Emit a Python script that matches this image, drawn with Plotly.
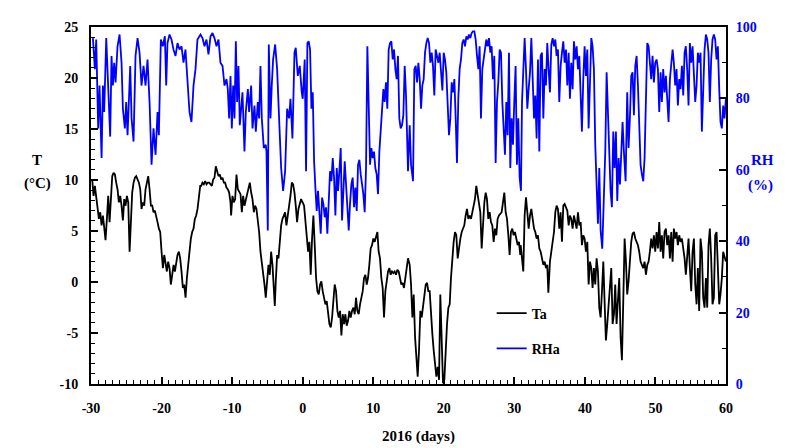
import plotly.graph_objects as go

# ---------------- data ----------------
ta_days = [
-29.83,-29.64,-29.45,-29.26,-29.07,-28.88,-28.69,-28.50,-28.31,-28.13,
-27.94,-27.75,-27.56,-27.37,-27.18,-26.99,-26.80,-26.61,-26.43,-26.24,
-26.05,-25.86,-25.67,-25.48,-25.29,-25.10,-24.91,-24.72,-24.53,-24.35,
-24.16,-23.97,-23.78,-23.59,-23.40,-23.21,-23.02,-22.84,-22.65,-22.46,
-22.27,-22.08,-21.89,-21.70,-21.51,-21.32,-21.14,-20.95,-20.76,-20.57,
-20.38,-20.19,-20.00,-19.81,-19.62,-19.44,-19.25,-19.06,-18.87,-18.68,
-18.49,-18.30,-18.11,-17.92,-17.74,-17.55,-17.36,-17.17,-16.98,-16.79,
-16.60,-16.41,-16.22,-16.04,-15.85,-15.66,-15.47,-15.28,-15.09,-14.90,
-14.71,-14.52,
-14.38,-14.20,-14.01,-13.82,-13.63,-13.44,-13.25,-13.06,-12.87,-12.68,
-12.50,-12.31,-12.12,-11.93,-11.74,-11.55,-11.36,-11.17,-10.99,-10.80,
-10.61,-10.42,-10.23,-10.14,-9.95,-9.76,-9.57,-9.38,-9.19,-9.00,
-8.81,-8.62,-8.44,-8.25,-8.06,-7.87,-7.68,-7.49,-7.30,-7.11,
-6.92,-6.74,-6.55,-6.36,-6.17,-5.98,-5.79,-5.60,-5.41,-5.23,
-5.04,-4.85,-4.66,-4.47,-4.28,-4.09,-3.95,-3.81,-3.62,-3.43,
-3.24,-3.05,-2.86,-2.68,-2.49,-2.30,-2.11,-1.92,-1.73,-1.54,
-1.35,-1.16,-0.98,-0.79,-0.60,-0.41,-0.22,-0.03,
0.01,0.20,0.39,0.58,0.77,0.95,1.14,1.33,1.52,1.71,
1.90,2.09,2.28,2.47,2.65,2.84,3.03,3.22,3.41,3.60,
3.79,3.98,4.17,4.35,4.54,4.73,4.92,5.11,5.30,5.49,
5.68,5.86,6.05,6.24,6.43,6.62,6.81,7.00,7.19,7.38,
7.56,7.75,7.94,8.13,8.32,8.51,8.70,8.89,9.08,9.26,
9.45,9.64,9.83,10.02,10.21,10.40,10.59,10.77,10.96,11.15,
11.34,11.53,11.72,11.91,12.10,12.29,12.47,12.66,12.85,13.04,
13.23,13.42,13.61,13.80,13.98,14.17,14.36,14.55,14.74,14.93,
15.17,15.36,15.55,15.74,15.93,16.11,16.30,16.49,16.68,16.87,
17.06,17.25,17.44,17.63,17.81,18.00,18.19,18.38,18.57,18.76,
18.95,19.14,19.33,19.51,19.70,19.89,20.08,20.27,20.46,20.65,
20.84,21.02,21.21,21.40,21.59,21.78,21.97,22.16,22.35,22.54,
22.72,22.91,23.10,23.29,23.48,23.67,23.86,24.05,24.24,24.42,
24.61,24.80,24.99,25.18,25.37,25.56,25.75,25.94,26.12,26.31,
26.50,26.69,26.88,27.07,27.26,27.45,27.63,27.82,28.01,28.20,
28.39,28.58,28.77,28.96,29.15,29.33,29.52,29.71,29.90,30.09,
30.28,30.47,30.66,30.84,
30.90,31.09,31.27,31.46,31.65,31.84,32.03,32.22,32.41,32.60,
32.79,32.97,33.16,33.35,33.54,33.73,33.92,34.11,34.30,34.48,
34.67,34.82,35.05,35.24,35.43,35.62,35.81,35.99,36.18,36.37,
36.56,36.75,36.94,37.13,37.32,37.51,37.70,37.88,38.07,38.26,
38.45,38.64,38.83,39.02,39.21,39.40,39.58,39.77,39.96,40.15,
40.34,40.53,40.72,40.91,41.09,41.28,41.47,41.66,41.85,42.04,
42.23,42.42,42.61,42.79,42.98,43.17,43.36,43.55,43.74,43.93,
44.12,44.30,44.49,44.68,44.87,45.06,
45.25,45.44,45.63,45.82,46.00,46.19,46.38,46.57,46.76,46.95,
47.14,47.33,47.52,47.70,47.89,48.08,48.27,48.46,48.65,48.84,
49.03,49.21,49.40,49.59,49.78,49.97,50.16,50.35,50.54,50.73,
50.91,51.10,51.29,51.48,51.67,51.86,52.05,52.24,52.43,52.61,
52.80,52.99,53.18,53.37,53.56,53.75,53.94,54.13,54.31,54.50,
54.69,54.88,55.07,55.26,55.45,55.64,55.83,56.01,56.20,56.39,
56.58,56.77,56.96,57.15,57.34,57.52,57.71,57.90,58.09,58.28,
58.47,58.66,58.85,59.04,59.22,59.41,59.60,59.79,59.98]

ta_values = [
10.06,8.45,9.42,8.13,7.48,6.19,6.84,5.55,6.52,5.23,
4.10,6.19,8.45,5.87,8.45,10.38,10.71,10.54,9.74,9.09,
7.80,8.45,7.48,6.03,8.13,7.48,8.45,7.80,2.97,6.19,
8.77,9.74,10.22,10.38,10.06,9.74,9.09,7.16,7.80,7.48,
9.09,9.74,10.38,9.09,7.48,7.48,6.84,7.00,6.52,5.87,
5.23,4.90,2.97,1.36,2.65,1.68,1.03,2.00,1.36,-0.25,
1.03,1.68,1.03,2.00,2.65,2.97,2.32,1.03,-0.58,-0.25,
-1.54,0.39,1.68,3.29,4.26,4.90,5.23,6.19,6.52,7.16,
8.45,9.42,
9.42,9.74,9.58,9.90,9.58,9.74,9.74,9.58,9.42,10.06,
10.22,11.35,10.71,10.38,10.54,10.06,10.22,9.74,9.74,9.26,
9.09,8.77,7.80,6.52,8.45,7.80,8.13,10.54,9.09,8.77,
8.61,6.84,8.45,7.48,8.13,8.77,9.09,9.74,8.77,8.13,
6.84,7.48,7.16,6.19,4.90,2.97,2.00,0.71,-0.25,-1.54,
0.07,1.68,0.71,2.97,1.68,-0.25,-2.35,0.07,2.65,2.32,
4.26,5.55,6.19,6.52,6.84,5.55,6.84,7.48,8.45,9.74,
9.58,8.77,7.48,5.87,7.16,7.80,8.13,7.80,
7.80,7.48,6.19,4.58,2.97,3.94,0.71,4.26,6.52,3.61,
0.39,-0.90,-1.22,-0.25,0.07,-0.90,-1.54,-2.19,-1.87,-3.16,
-4.12,-4.45,-3.48,-1.87,-0.25,-0.90,-2.83,-3.48,-2.83,-5.25,
-3.16,-4.12,-3.16,-4.28,-3.80,-2.83,-3.48,-2.83,-2.51,-3.16,
-1.54,-2.83,-3.16,-2.19,-1.54,-0.90,0.39,0.71,-0.25,0.39,
1.68,3.29,3.61,4.26,3.94,4.58,4.90,2.97,2.32,0.39,
-0.58,-3.48,-0.90,0.07,1.03,1.36,0.71,1.03,0.87,1.03,
0.71,1.20,1.03,0.39,-0.25,-0.09,-0.58,0.39,1.68,2.32,
1.68,-0.25,-3.48,-1.22,-5.41,-7.35,-9.28,-6.70,-2.83,-3.48,
-2.19,-1.22,-0.25,-0.09,-0.90,-0.90,-3.48,-5.09,-6.70,-7.99,
-9.28,-8.31,-9.60,-1.22,-6.70,-9.93,-9.60,-6.06,-4.12,-2.51,
-2.19,0.39,2.65,3.94,4.90,4.58,2.32,3.61,4.26,4.90,
5.23,5.55,6.52,7.16,6.19,6.52,6.19,6.84,7.48,8.13,
9.42,8.45,7.80,6.84,3.29,6.19,7.80,8.77,8.13,6.19,
6.84,5.87,5.55,3.94,5.23,4.58,6.19,6.52,6.68,6.84,
7.80,8.77,6.84,6.19,4.58,2.65,4.90,5.23,4.58,4.90,
4.26,3.61,3.94,2.65,
3.61,2.00,1.03,6.52,8.29,6.84,5.23,6.52,7.16,6.19,
5.23,4.90,4.26,4.58,3.29,2.97,2.32,1.68,2.00,1.36,
1.68,-1.06,2.00,2.97,3.94,4.90,6.84,7.48,7.16,5.23,
6.84,3.94,7.48,7.64,7.32,7.00,5.55,6.52,6.19,5.23,
6.52,5.87,5.23,6.84,5.55,5.87,3.61,4.58,4.26,2.97,
3.94,-0.25,2.00,1.36,-0.58,1.36,-0.25,2.32,1.03,-2.51,
-3.48,-0.90,2.00,-1.87,-5.74,-4.12,-2.19,0.39,1.36,-4.12,
-3.16,-0.25,-4.12,-1.87,0.39,-5.41,
-7.67,-1.87,4.26,2.00,-1.22,0.07,2.65,3.94,4.74,4.90,
4.26,3.94,3.61,2.97,2.00,1.68,1.36,2.00,0.71,1.68,
2.00,2.97,4.26,3.29,4.58,2.97,4.90,3.29,5.87,2.97,
4.58,2.32,4.90,5.23,3.61,4.58,2.32,4.90,2.00,5.23,
4.26,4.90,3.61,4.58,3.94,4.26,3.29,2.32,0.71,2.97,
4.26,1.36,-0.90,2.97,4.26,-0.25,-2.19,1.36,-2.83,4.26,
2.97,-1.54,-2.51,0.39,-2.51,3.61,5.23,2.32,-2.19,-1.54,
4.58,4.90,1.03,-2.19,-1.22,0.39,2.97,2.32,2.00]

rh_days = [
-29.73,-29.45,-29.26,-28.98,-28.79,-28.50,-28.31,-28.13,-27.84,-27.56,
-27.28,-27.09,-26.90,-26.71,-26.52,-26.24,-25.95,-25.67,-25.48,-25.20,
-25.01,-24.82,-24.63,-24.44,-24.25,-23.97,-23.69,-23.40,-23.12,-22.84,
-22.55,-22.27,-21.99,-21.70,-21.42,-21.14,-20.85,-20.57,-20.38,-20.10,
-19.82,-19.53,-19.34,-19.16,-18.87,-18.59,-18.31,-18.02,-17.74,-17.46,
-17.17,-16.89,-16.61,-16.32,-16.04,-15.76,-15.47,-15.19,-14.91,
-14.48,-14.20,-13.91,-13.63,-13.35,-13.06,-12.78,-12.50,-12.21,-11.93,
-11.65,-11.36,-11.08,-10.80,-10.61,-10.42,-10.23,-10.04,-9.85,-9.66,
-9.47,-9.29,-9.10,-8.91,-8.72,-8.53,-8.25,-8.06,-7.77,-7.59,
-7.30,-7.11,-6.83,-6.64,-6.36,-6.17,-5.98,-5.79,-5.51,-5.23,
-5.13,-4.94,-4.80,-4.56,-4.38,-4.19,-3.90,-3.62,-3.34,-3.05,
-2.77,-2.49,-2.20,-1.92,-1.73,-1.45,-1.16,-0.98,-0.69,-0.41,
-0.13,
0.01,0.29,0.48,0.67,0.86,1.05,1.24,1.43,1.62,1.80,
1.99,2.18,2.37,2.56,2.75,2.94,3.13,3.31,3.50,3.69,
3.88,4.07,4.26,4.45,4.64,4.83,5.01,5.20,5.39,5.58,
5.77,5.96,6.15,6.34,6.53,6.71,6.90,7.09,7.28,7.47,
7.66,7.85,8.04,8.23,8.41,8.60,8.79,8.98,9.17,9.36,
9.55,9.74,9.93,10.11,10.30,10.49,10.68,10.87,11.06,11.25,
11.44,11.62,11.81,12.00,12.19,12.38,12.57,12.76,12.95,13.14,
13.32,13.51,13.70,13.89,14.08,14.27,14.46,14.65,14.93,
15.17,15.36,15.64,15.83,16.02,16.21,16.40,16.59,16.78,16.96,
17.15,17.34,17.53,17.72,17.91,18.10,18.29,18.47,18.66,18.85,
19.04,19.23,19.42,19.61,19.80,19.99,20.17,20.36,20.55,20.74,
20.93,21.12,21.31,21.50,21.69,21.87,22.06,22.25,22.44,22.63,
22.82,23.01,23.20,23.39,23.57,23.76,23.95,24.14,24.33,24.52,
24.71,24.90,25.08,25.27,25.46,25.65,25.84,26.03,26.22,26.41,
26.60,26.78,26.97,27.16,27.35,27.54,27.73,27.92,28.11,28.30,
28.48,28.67,28.86,29.05,29.24,29.43,29.62,29.81,29.99,30.18,
30.37,30.56,30.75,30.94,
31.09,31.27,31.46,31.65,31.84,32.03,32.22,32.41,32.60,32.79,
32.97,33.16,33.35,33.54,33.73,33.92,34.11,34.30,34.48,34.67,
34.86,35.05,35.24,35.43,35.62,35.81,35.99,36.18,36.37,36.56,
36.75,36.94,37.13,37.32,37.51,37.70,37.88,38.07,38.26,38.45,
38.64,38.83,39.02,39.21,39.40,39.58,39.77,39.96,40.15,40.34,
40.53,40.72,40.91,41.09,41.28,41.47,41.66,41.85,42.04,42.23,
42.46,42.70,42.89,43.08,43.27,43.46,43.64,43.83,44.02,44.21,
44.40,44.59,44.78,44.97,45.16,45.34,45.53,
45.77,46.00,46.19,46.38,46.57,46.76,46.95,47.14,47.33,47.52,
47.70,47.89,48.08,48.27,48.46,48.65,48.84,49.03,49.21,49.40,
49.59,49.78,49.97,50.16,50.35,50.54,50.73,50.91,51.10,51.29,
51.48,51.67,51.86,52.05,52.24,52.43,52.61,52.80,52.99,53.18,
53.37,53.56,53.75,53.94,54.13,54.31,54.50,54.69,54.88,55.07,
55.26,55.45,55.64,55.83,56.01,56.20,56.39,56.58,56.77,56.96,
57.15,57.34,57.52,57.71,57.90,58.09,58.28,58.47,58.66,58.85,
59.04,59.22,59.41,59.60,59.79,59.98]

rh_values = [
96.9,88.2,96.5,71.6,83.6,63.3,83.6,76.2,96.9,83.6,
69.3,91.9,83.6,90.0,84.5,94.6,97.9,90.0,77.1,71.6,
79.0,69.7,78.0,89.1,74.4,67.9,91.9,96.9,92.8,83.6,
89.1,83.6,90.9,79.0,61.4,71.6,64.2,76.2,69.7,96.5,
94.6,97.4,83.6,95.5,97.9,96.5,93.7,91.9,95.5,93.7,
94.6,90.0,93.7,85.4,76.2,73.4,83.6,88.2,96.5,
97.9,96.9,94.6,96.5,92.3,97.4,98.3,96.9,94.6,96.5,
90.0,89.1,83.6,85.4,82.6,74.4,86.3,71.6,83.6,74.4,
96.0,79.0,89.1,72.5,77.1,81.7,65.1,76.2,82.6,76.2,
83.6,71.6,78.0,70.7,79.0,74.4,89.1,74.4,66.1,67.0,
65.1,43.0,95.1,74.4,83.6,90.9,95.1,88.2,74.4,60.5,
54.1,59.6,77.1,74.4,79.9,68.8,92.8,94.2,86.3,89.1,
81.7,
79.9,90.9,59.6,95.5,96.0,93.7,77.1,81.7,62.4,55.0,
48.5,54.1,47.6,42.1,52.2,50.4,46.7,49.5,42.1,50.4,
59.6,56.8,63.3,57.8,47.2,60.5,54.1,59.6,66.1,45.8,
56.8,62.4,55.9,50.4,43.0,50.4,55.9,57.8,49.5,55.0,
48.5,61.4,62.8,58.7,55.9,53.2,48.1,60.5,94.6,79.9,
61.4,66.1,63.3,65.1,60.5,58.7,53.2,65.1,71.6,78.0,
82.6,79.0,84.5,77.1,93.7,95.5,96.0,90.9,93.7,88.2,
85.4,91.9,74.4,71.6,72.5,75.3,89.1,80.8,59.6,
72.5,61.4,56.8,88.2,89.1,84.5,90.0,85.4,77.1,83.6,
85.4,92.8,95.5,96.9,95.5,90.0,92.8,89.1,80.8,93.7,
91.9,90.0,92.8,88.2,82.2,92.8,90.9,87.3,79.0,69.7,
74.4,84.5,81.7,85.4,74.4,61.9,79.9,88.2,90.9,95.5,
96.5,94.6,97.4,96.5,97.9,96.9,98.3,98.8,98.8,96.5,
91.9,88.2,94.6,74.4,88.2,91.9,93.7,96.5,94.6,96.9,
92.8,94.6,85.4,91.9,61.9,79.0,84.5,93.7,92.8,79.0,
71.6,64.2,79.0,69.7,92.8,60.5,74.4,67.0,79.0,89.1,
61.4,74.4,57.8,54.1,
79.0,90.0,96.9,88.2,77.1,82.6,87.3,96.9,84.5,74.4,
80.8,68.8,90.9,65.1,91.9,92.8,74.4,88.2,83.6,95.5,
88.2,81.7,95.1,96.9,94.6,96.5,91.9,93.7,79.0,89.1,
92.8,96.0,90.0,93.7,83.6,92.8,79.9,90.0,82.6,96.0,
90.9,94.6,88.2,91.9,80.8,70.7,85.4,94.6,86.3,93.7,
71.6,84.5,96.9,94.6,88.2,67.0,55.9,44.9,60.5,43.0,
37.9,50.4,65.1,87.3,76.2,60.5,54.1,49.5,70.7,60.5,
70.7,51.3,63.3,55.9,67.0,73.4,65.1,
56.8,81.7,66.1,74.4,86.3,87.3,75.3,89.1,91.9,83.6,
69.7,61.4,58.7,56.8,63.3,83.6,95.5,94.6,90.9,85.4,
91.9,84.5,90.0,90.9,88.2,76.2,87.3,79.0,88.2,81.7,
86.3,78.0,73.4,85.4,89.1,93.7,90.0,83.6,88.2,78.0,
85.4,82.6,89.1,80.8,92.8,94.6,88.2,78.0,95.5,90.0,
94.6,85.4,79.0,83.6,92.8,90.0,92.8,70.7,85.4,93.7,
97.9,96.5,92.8,79.0,90.9,96.5,97.9,96.5,90.9,94.6,
82.6,73.4,71.6,78.0,74.4,79.9]

x_ticks = [-30, -20, -10, 0, 10, 20, 30, 40, 50, 60]
t_ticks = [-10, -5, 0, 5, 10, 15, 20, 25]
rh_ticks = [0, 20, 40, 60, 80, 100]

assert len(ta_days) == len(ta_values), (len(ta_days), len(ta_values))
assert len(rh_days) == len(rh_values), (len(rh_days), len(rh_values))

# ---------------- figure ----------------
FONT = "Liberation Serif"
BLUE = "#0000FF"

fig = go.Figure()
fig.add_trace(go.Scatter(x=ta_days, y=ta_values, mode="lines", name="Ta",
                         line=dict(color="black", width=1.8),
                         legendgroup="ta", yaxis="y"))
fig.add_trace(go.Scatter(x=rh_days, y=rh_values, mode="lines", name="RHa",
                         line=dict(color=BLUE, width=1.8),
                         legendgroup="rh", yaxis="y2"))

tickfont = dict(family=FONT, size=14, color="black", weight="bold")

# page body adds an 8px offset, so the figure is 792x440
fig.update_layout(
    width=792, height=440,
    margin=dict(l=83, r=74, t=14, b=64),
    paper_bgcolor="white", plot_bgcolor="white",
    showlegend=True,
    legend=dict(x=0.631, y=0.242, xanchor="left", yanchor="top",
                bgcolor="rgba(0,0,0,0)", borderwidth=0,
                font=dict(family=FONT, size=14, color="black", weight="bold"),
                tracegroupgap=14, itemwidth=30),
    xaxis=dict(range=[-30, 60], tickvals=x_ticks, ticktext=[str(v) for v in x_ticks],
               ticks="inside", ticklen=7, tickwidth=1.5, tickcolor="black",
               minor=dict(dtick=1, ticks="inside", ticklen=4, tickwidth=1, tickcolor="black"),
               showline=True, linecolor="black", linewidth=2, mirror=True,
               showgrid=False, zeroline=False, tickfont=tickfont,
               ticklabelstandoff=10),
    yaxis=dict(range=[-10, 25], tickvals=t_ticks, ticktext=[str(v) for v in t_ticks],
               ticks="inside", ticklen=7, tickwidth=1.5, tickcolor="black",
               minor=dict(dtick=1, ticks="inside", ticklen=4, tickwidth=1, tickcolor="black"),
               showline=True, linecolor="black", linewidth=2,
               showgrid=False, zeroline=False, tickfont=tickfont,
               ticklabelstandoff=8),
    yaxis2=dict(range=[0, 100], tickvals=rh_ticks, ticktext=[str(v) for v in rh_ticks],
                overlaying="y", side="right",
                ticks="inside", ticklen=7, tickwidth=1.5, tickcolor="black",
                minor=dict(dtick=10, ticks="inside", ticklen=4, tickwidth=1, tickcolor="black"),
                showline=True, linecolor="black", linewidth=2,
                showgrid=False, zeroline=False,
                tickfont=dict(family=FONT, size=14, color=BLUE, weight="bold"),
                ticklabelstandoff=5),
)

ann_font = dict(family=FONT, size=15, color="black")
fig.add_annotation(text="<b>2016 (days)</b>", xref="paper", yref="paper",
                   x=0.515, y=-0.146, xanchor="center", yanchor="middle",
                   showarrow=False, font=ann_font)
fig.add_annotation(text="<b>T</b>", xref="paper", yref="paper",
                   x=-0.085, y=0.627, xanchor="center", yanchor="middle",
                   showarrow=False, font=ann_font)
fig.add_annotation(text="<b>(°C)</b>", xref="paper", yref="paper",
                   x=-0.085, y=0.561, xanchor="center", yanchor="middle",
                   showarrow=False, font=ann_font)
fig.add_annotation(text="<b>RH</b>", xref="paper", yref="paper",
                   x=1.058, y=0.628, xanchor="center", yanchor="middle",
                   showarrow=False, font=dict(family=FONT, size=15, color=BLUE))
fig.add_annotation(text="<b>(%)</b>", xref="paper", yref="paper",
                   x=1.055, y=0.557, xanchor="center", yanchor="middle",
                   showarrow=False, font=dict(family=FONT, size=15, color=BLUE))

fig.write_html("out.html")
